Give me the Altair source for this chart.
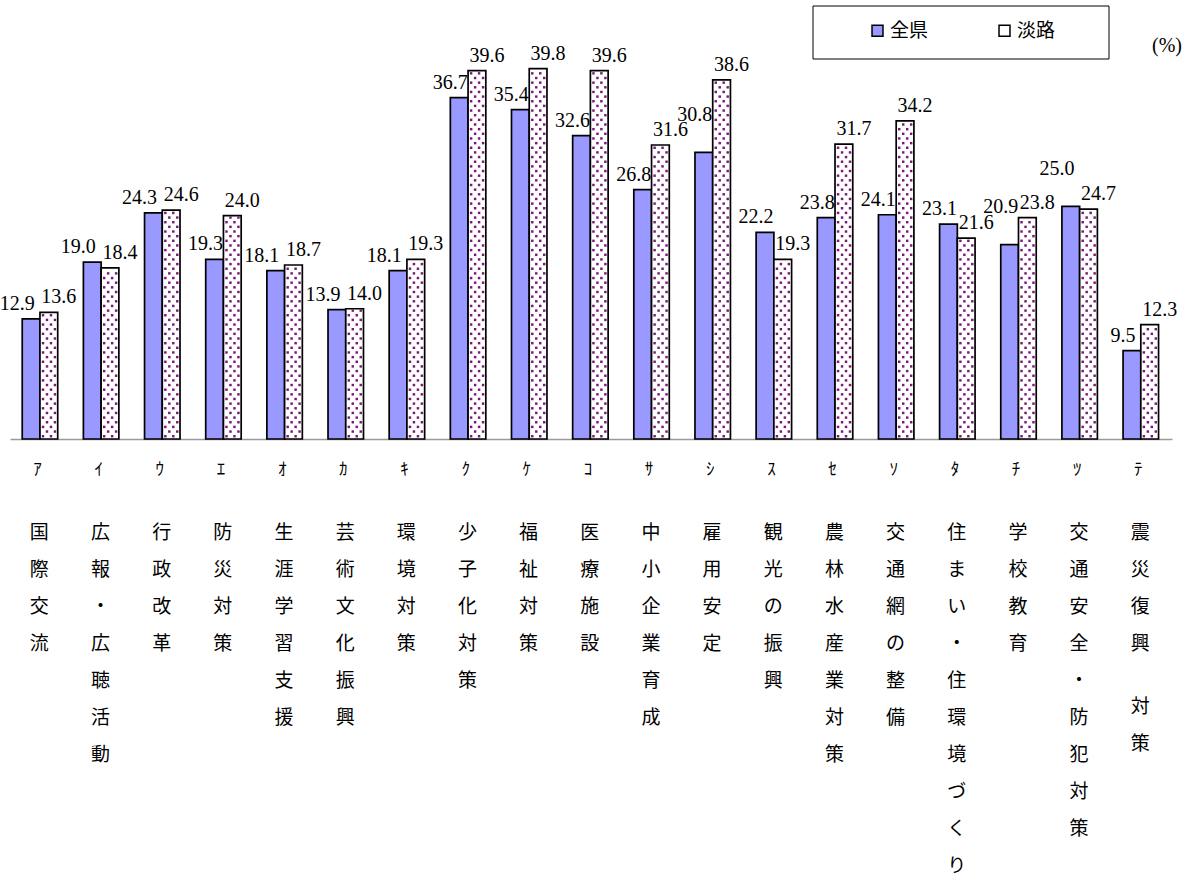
import altair as alt
import pandas as pd

# Survey items (half-width kana codes and full names) and the share (%) per area
kana = ["ｱ", "ｲ", "ｳ", "ｴ", "ｵ", "ｶ", "ｷ", "ｸ", "ｹ", "ｺ",
        "ｻ", "ｼ", "ｽ", "ｾ", "ｿ", "ﾀ", "ﾁ", "ﾂ", "ﾃ"]
names = ["国際交流", "広報・広聴活動", "行政改革", "防災対策", "生涯学習支援",
         "芸術文化振興", "環境対策", "少子化対策", "福祉対策", "医療施設",
         "中小企業育成", "雇用安定", "観光の振興", "農林水産業対策", "交通網の整備",
         "住まい・住環境づくり", "学校教育", "交通安全・防犯対策", "震災復興 対策"]
zenken = [12.9, 19.0, 24.3, 19.3, 18.1, 13.9, 18.1, 36.7, 35.4, 32.6,
          26.8, 30.8, 22.2, 23.8, 24.1, 23.1, 20.9, 25.0, 9.5]
awaji = [13.6, 18.4, 24.6, 24.0, 18.7, 14.0, 19.3, 39.6, 39.8, 39.6,
         31.6, 38.6, 19.3, 31.7, 34.2, 21.6, 23.8, 24.7, 12.3]
series_names = ["全県", "淡路"]

n = len(kana)
bars_df = pd.DataFrame({
    "idx": list(range(n)) * 2,
    "series": [series_names[0]] * n + [series_names[1]] * n,
    "value": zenken + awaji,
})
wide_df = pd.DataFrame({"idx": list(range(n)), "zen": zenken, "awa": awaji})
kana_df = pd.DataFrame({"idx": list(range(n)), "kana": kana})

# One row per character of each name, stacked top to bottom (a space is a short gap)
char_rows = []
for i, name in enumerate(names):
    pos = 0.0
    for ch in name:
        if ch == " ":
            pos += 0.7
            continue
        char_rows.append({"idx": i, "pos": pos, "ch": ch})
        pos += 1.0
chars_df = pd.DataFrame(char_rows)

x_scale = alt.Scale(domain=[0, n], nice=False, zero=False)
x_axis = alt.Axis(labels=False, ticks=False, grid=False, title=None,
                  domainColor="#9a9a9a", domainWidth=1.5)
y_scale = alt.Scale(domain=[0, 46], nice=False)

base = alt.Chart(bars_df).transform_calculate(
    x0="datum.idx + (datum.series == '全県' ? 0.2 : 0.49)"
).transform_calculate(
    x1="datum.x0 + 0.29"
)

bars = base.mark_bar(stroke="black", strokeWidth=1.7).encode(
    x=alt.X("x0:Q", scale=x_scale, axis=x_axis),
    x2="x1:Q",
    y=alt.Y("value:Q", scale=y_scale, axis=None),
    y2=alt.datum(0),
    color=alt.Color(
        "series:N",
        scale=alt.Scale(domain=series_names, range=["#9999FF", "#FFFFFF"]),
        legend=alt.Legend(
            title=None, orient="none", legendX=858, legendY=10,
            direction="horizontal", symbolType="square", symbolSize=120,
            symbolStrokeColor="black", symbolStrokeWidth=1.5,
            labelFont="Noto Sans CJK JP", labelFontSize=19, labelColor="black",
            labelOffset=3, columnPadding=66,
        ),
    ),
)

# Dotted fill for the 淡路 bars: staggered rows of small purple dots
dots = alt.Chart(bars_df).transform_filter(
    "datum.series == '淡路'"
).transform_calculate(
    rows="sequence(0.3, datum.value - 0.15, 0.5)"
).transform_flatten(["rows"]).transform_calculate(
    cols="round((datum.rows - 0.3) / 0.5) % 2 == 0 ? [0.54, 0.67] : [0.605, 0.735]"
).transform_flatten(["cols"]).transform_calculate(
    xd="datum.idx + datum.cols"
).mark_square(size=6, color="#761a76", opacity=1).encode(
    x=alt.X("xd:Q", scale=x_scale, axis=x_axis),
    y=alt.Y("rows:Q", scale=y_scale, axis=None),
)

label_font = dict(font="Liberation Serif", fontSize=20, color="black",
                  baseline="alphabetic", dy=-9)

# 全県 labels: lifted when the 淡路 label of the group to the left sits at about the
# same height, and nudged left when the two bars of the same group are nearly equal
labels_zen = alt.Chart(wide_df).transform_window(
    window=[alt.WindowFieldDef(op="lag", field="awa", param=1, **{"as": "prev_awa"})],
    sort=[alt.SortField(field="idx", order="ascending")],
).transform_calculate(
    xc="datum.idx + 0.345 - (abs(datum.awa - datum.zen) < 1.5 ? 0.08 : 0)",
    ylab="datum.zen + (abs(datum.prev_awa - datum.zen) < 2 ? 2.4 : 0)",
).mark_text(dx=-9, **label_font).encode(
    x=alt.X("xc:Q", scale=x_scale, axis=x_axis),
    y=alt.Y("ylab:Q", scale=y_scale, axis=None),
    text=alt.Text("zen:Q", format=".1f"),
)

labels_awa = alt.Chart(wide_df).transform_calculate(
    xc="datum.idx + 0.635"
).mark_text(dx=10, **label_font).encode(
    x=alt.X("xc:Q", scale=x_scale, axis=x_axis),
    y=alt.Y("awa:Q", scale=y_scale, axis=None),
    text=alt.Text("awa:Q", format=".1f"),
)

kana_text = alt.Chart(kana_df).transform_calculate(
    xc="datum.idx + 0.45"
).mark_text(font="Noto Sans CJK JP", fontSize=17, color="black", baseline="middle").encode(
    x=alt.X("xc:Q", scale=x_scale, axis=x_axis),
    y=alt.value(459),
    text="kana:N",
)

name_text = alt.Chart(chars_df).transform_calculate(
    xc="datum.idx + 0.48"
).mark_text(font="Noto Sans CJK JP", fontSize=19, color="black", baseline="middle").encode(
    x=alt.X("xc:Q", scale=x_scale, axis=x_axis),
    y=alt.Y("pos:Q", scale=alt.Scale(domain=[0, 9], range=[522, 855], nice=False), axis=None),
    text="ch:N",
)

frame_df = pd.DataFrame({"unit": ["(%)"]})
legend_box = alt.Chart(frame_df).mark_rect(fill="white", stroke="black", strokeWidth=1).encode(
    x=alt.value(803), x2=alt.value(1099), y=alt.value(-5), y2=alt.value(48),
)
unit_text = alt.Chart(frame_df).mark_text(
    font="Liberation Serif", fontSize=20, color="black", baseline="middle"
).encode(x=alt.value(1157), y=alt.value(35), text="unit:N")

chart = alt.layer(
    legend_box, bars, dots, labels_zen, labels_awa, kana_text, name_text, unit_text
).resolve_scale(
    y="independent"
).properties(
    width=1162,
    height=428,
    autosize=alt.AutoSizeParams(type="none"),
    padding={"left": 10, "top": 11, "right": 22, "bottom": 440},
    background="white",
).configure_view(strokeWidth=0)

chart.save("out.html", embed_options={"renderer": "svg", "actions": False})
